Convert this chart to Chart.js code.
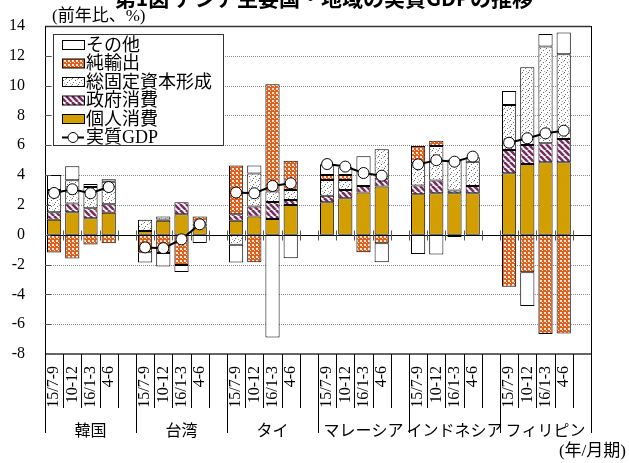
<!DOCTYPE html>
<html lang="ja">
<head>
<meta charset="utf-8">
<title>アジア主要国・地域の実質GDPの推移</title>
<script src="https://cdn.jsdelivr.net/npm/chart.js@4.4.1/dist/chart.umd.min.js"></script>
<style>
    html, body { margin: 0; padding: 0; background: #fff; }
    #graphique { width: 629px; height: 463px; position: relative; }
</style>
</head>
<body>
<div id="graphique"><canvas id="myChart"></canvas></div>
<script>
// pays et trimestres (4 par pays)
const pays = ['韓国', '台湾', 'タイ', 'マレーシア', 'インドネシア', 'フィリピン'];
const trimestres = ['15/7-9', '10-12', '16/1-3', '4-6'];

// contributions au PIB (points de %), ordre : 韓国, 台湾, タイ, マレーシア, インドネシア, フィリピン
const consoPrivee = [1.0, 1.5, 1.1, 1.48,  0.25, 0.94, 1.38, 0.55,  0.94, 1.23, 1.05, 2.0,
                     2.18, 2.44, 2.84, 3.24,  2.71, 2.78, 2.78, 2.78,  4.12, 4.74, 4.86, 4.86];
const consoPublique = [0.5, 0.6, 0.67, 0.56,  0, 0.08, 0.79, 0.2,  0.44, 0.67, 1.15, 0.33,
                       0.44, 0.56, 0.43, 0.48,  0.6, 0.86, 0.19, 0.49,  1.56, 1.28, 1.27, 1.56];
const fbcf = [1.5, 1.55, 1.43, 1.52,  0.75, 0.2, 0, 0.05,  -0.67, 2.2, 0.7, 0.67,
              1.05, 0.67, 0, 2.01,  1.49, 2.31, 2.08, 1.63,  3.02, 5.21, 6.49, 5.68];
const exportNet = [-1.2, -1.6, -0.65, -0.58,  -1.18, -1.23, -2.03, 0.43,  3.27, -1.85, 7.2, 1.97,
                   0.33, 0.33, -1.18, -0.58,  1.15, 0.35, 0, 0,  -3.49, -2.52, -6.66, -6.62];
const autres = [1.0, 0.95, 0.2, 0.16,  -0.69, -0.9, -0.47, -0.55,  -1.2, 0.55, -6.9, -1.58,
                0.72, 0.52, 2.0, -1.27,  -1.3, -1.32, -0.16, 0.3,  0.94, -2.26, 0.85, 1.46];
const pibReel = [2.8, 3.05, 2.78, 3.2,  -0.85, -0.9, -0.31, 0.7,  2.83, 2.78, 3.27, 3.45,
                 4.74, 4.57, 4.14, 3.96,  4.72, 5.0, 4.9, 5.24,  6.17, 6.47, 6.8, 6.98];

// axe des valeurs
const yMin = -8;
const yMax = 14;
const yPas = 2;

const serif = '"Liberation Serif", "Noto Sans CJK JP", serif';

// une case vide après chaque pays
const avecVide = serie => {
    let res = [];
    pays.forEach((p, i) => {
        res.push(...serie.slice(i * 4, i * 4 + 4), null);
    });
    return res;
};
let labels = [];
pays.forEach(() => labels.push(...trimestres, ''));

const ctx = document.getElementById('myChart').getContext('2d');

// motifs de remplissage
const creerMotif = (taille, dessin) => {
    let c = document.createElement('canvas');
    c.width = taille;
    c.height = taille;
    let cx = c.getContext('2d');
    cx.fillStyle = '#fff';
    cx.fillRect(0, 0, taille, taille);
    dessin(cx);
    return ctx.createPattern(c, 'repeat');
};

const motifDamier = creerMotif(4, cx => {
    cx.fillStyle = '#e0601c';
    cx.fillRect(0, 0, 4, 4);
    cx.fillStyle = '#fbe6d8';
    cx.fillRect(0, 0, 2, 2);
    cx.fillRect(2, 2, 1, 1);
});
const motifPoints = creerMotif(6, cx => {
    cx.fillStyle = '#6a6a6a';
    cx.fillRect(0, 0, 1, 1);
    cx.fillRect(3, 2, 1, 1);
    cx.fillRect(1, 4, 1, 1);
    cx.fillStyle = '#b0b0b0';
    cx.fillRect(4, 5, 1, 1);
    cx.fillRect(5, 1, 1, 1);
});
const motifRayures = creerMotif(6, cx => {
    cx.strokeStyle = '#7a2a5c';
    cx.lineWidth = 2.6;
    [-6, 0, 6].forEach(d => {
        cx.beginPath();
        cx.moveTo(d, 0);
        cx.lineTo(d + 6, 6);
        cx.stroke();
    });
});

const barre = (label, data, couleur) => ({
    type: 'bar',
    label: label,
    data: avecVide(data),
    backgroundColor: couleur,
    borderColor: '#000',
    borderWidth: 1,
    borderSkipped: false,
    stack: 'contrib',
    barPercentage: 0.78,
    categoryPercentage: 1,
    order: 1
});

// décor : grille, ligne du zéro, séparateurs, noms de pays, légende, titres
const decor = {
    id: 'decor',
    beforeDatasetsDraw(chart) {
        const {ctx, chartArea: a, scales: {y}} = chart;
        ctx.save();
        ctx.strokeStyle = '#8a8a8a';
        ctx.lineWidth = 1;
        ctx.setLineDash([1, 1]);
        for (let v = yMin + yPas; v < yMax; v += yPas) {
            if (v === 0) continue;
            let py = Math.round(y.getPixelForValue(v)) + 0.5;
            ctx.beginPath();
            ctx.moveTo(a.left, py);
            ctx.lineTo(a.right, py);
            ctx.stroke();
        }
        ctx.restore();
    },
    beforeDatasetDraw(chart, args) {
        if (args.meta.type !== 'line') return;
        const {ctx, chartArea: a, scales: {y}} = chart;
        let y0 = Math.round(y.getPixelForValue(0)) + 0.5;
        let w = (a.right - a.left) / labels.length;
        ctx.save();
        ctx.strokeStyle = '#000';
        ctx.lineWidth = 1.2;
        ctx.beginPath();
        ctx.moveTo(a.left, y0);
        ctx.lineTo(a.right, y0);
        ctx.stroke();
        ctx.strokeStyle = '#555';
        ctx.lineWidth = 1;
        for (let k = 1; k < labels.length; k++) {
            let px = Math.round(a.left + k * w) + 0.5;
            ctx.beginPath();
            ctx.moveTo(px, y0 - 5);
            ctx.lineTo(px, y0 + 5);
            ctx.stroke();
        }
        ctx.restore();
    },
    afterDraw(chart) {
        const {ctx, chartArea: a, scales: {y}} = chart;
        let w = (a.right - a.left) / labels.length;
        ctx.save();

        // cadre
        ctx.strokeStyle = '#333';
        ctx.lineWidth = 1.5;
        ctx.beginPath();
        ctx.moveTo(a.left, a.top + 0.5);
        ctx.lineTo(a.right, a.top + 0.5);
        ctx.moveTo(a.left, a.bottom);
        ctx.lineTo(a.right, a.bottom);
        ctx.stroke();
        ctx.strokeStyle = '#000';
        ctx.lineWidth = 1;
        ctx.beginPath();
        ctx.moveTo(a.left + 0.5, a.top);
        ctx.lineTo(a.left + 0.5, a.bottom);
        ctx.moveTo(a.right + 0.5, a.top);
        ctx.lineTo(a.right + 0.5, a.bottom);
        ctx.stroke();

        // graduations intérieures de l'axe vertical
        ctx.strokeStyle = '#555';
        for (let v = yMin + yPas; v < yMax; v += yPas) {
            let py = Math.round(y.getPixelForValue(v)) + 0.5;
            ctx.beginPath();
            ctx.moveTo(a.left, py);
            ctx.lineTo(a.left + 6, py);
            ctx.stroke();
        }

        // séparateurs sous l'axe
        ctx.strokeStyle = '#000';
        for (let k = 0; k <= labels.length; k++) {
            let px = Math.round(a.left + k * w) + 0.5;
            ctx.beginPath();
            ctx.moveTo(px, a.bottom);
            ctx.lineTo(px, k % 5 === 0 ? a.bottom + 79 : a.bottom + 54);
            ctx.stroke();
        }

        // noms des pays
        ctx.fillStyle = '#000';
        ctx.font = '16px ' + serif;
        ctx.textAlign = 'center';
        ctx.textBaseline = 'middle';
        pays.forEach((p, i) => {
            ctx.fillText(p, a.left + (i * 5 + 2.5) * w, a.bottom + 78);
        });

        // unités et titre
        ctx.textAlign = 'left';
        ctx.font = '17px ' + serif;
        ctx.fillText('(前年比、%)', 52, 17);
        ctx.textAlign = 'right';
        ctx.fillText('(年/月期)', 626, 452);
        ctx.font = 'bold 21px "Noto Sans CJK JP", sans-serif';
        ctx.textBaseline = 'alphabetic';
        ctx.fillText('第1図 アジア主要国・地域の実質GDPの推移', 533, 6);

        // légende
        let lx = 53, ly = 34, lw = 170, lh = 111;
        ctx.fillStyle = '#fff';
        ctx.fillRect(lx, ly, lw, lh);
        ctx.strokeStyle = '#333';
        ctx.strokeRect(lx + 0.5, ly + 0.5, lw, lh);
        let items = chart.data.datasets.filter(d => d.type === 'bar').reverse();
        items.push(chart.data.datasets.find(d => d.type === 'line'));
        ctx.font = '18px ' + serif;
        ctx.textAlign = 'left';
        ctx.textBaseline = 'middle';
        items.forEach((d, i) => {
            let cy = 45 + i * 18.5;
            if (d.type === 'bar') {
                ctx.fillStyle = d.backgroundColor;
                ctx.fillRect(62, cy - 4.5, 22, 9);
                ctx.strokeStyle = '#000';
                ctx.lineWidth = 1;
                ctx.strokeRect(62.5, cy - 4.5, 22, 9);
            } else {
                ctx.strokeStyle = '#000';
                ctx.lineWidth = 2;
                ctx.beginPath();
                ctx.moveTo(62, cy);
                ctx.lineTo(84, cy);
                ctx.stroke();
                ctx.beginPath();
                ctx.arc(73, cy, 5, 0, Math.PI * 2);
                ctx.fillStyle = '#fff';
                ctx.fill();
                ctx.lineWidth = 1;
                ctx.stroke();
            }
            ctx.fillStyle = '#000';
            ctx.fillText(d.label, 86, cy + 1);
        });
        ctx.restore();
    }
};

const config = {
    data: {
        labels: labels,
        datasets: [
            barre('個人消費', consoPrivee, '#d29e00'),
            barre('政府消費', consoPublique, motifRayures),
            barre('総固定資本形成', fbcf, motifPoints),
            barre('純輸出', exportNet, motifDamier),
            barre('その他', autres, '#fff'),
            {
                type: 'line',
                label: '実質GDP',
                data: avecVide(pibReel),
                borderColor: '#000',
                borderWidth: 2,
                pointRadius: 5.5,
                pointBackgroundColor: '#fff',
                pointBorderColor: '#000',
                pointBorderWidth: 1,
                spanGaps: false,
                stack: 'pib',
                order: 0
            }
        ]
    },
    options: {
        responsive: true,
        maintainAspectRatio: false,
        animation: false,
        layout: {
            padding: { top: 26, right: 38, left: 0, bottom: 0 }
        },
        plugins: {
            legend: { display: false },
            tooltip: { enabled: false },
            title: { display: false }
        },
        scales: {
            x: {
                stacked: true,
                grid: { display: false },
                border: { display: false },
                ticks: {
                    autoSkip: false,
                    minRotation: 90,
                    maxRotation: 90,
                    padding: 4,
                    color: '#000',
                    font: { family: serif, size: 16 }
                },
                afterFit: scale => { scale.height = 109; }
            },
            y: {
                stacked: true,
                min: yMin,
                max: yMax,
                grid: { display: false },
                border: { display: false },
                ticks: {
                    stepSize: yPas,
                    padding: 12,
                    color: '#000',
                    font: { family: serif, size: 16 }
                },
                afterFit: scale => { scale.width = 45; }
            }
        }
    },
    plugins: [decor]
};

var myChart = new Chart(ctx, config);
</script>
</body>
</html>
